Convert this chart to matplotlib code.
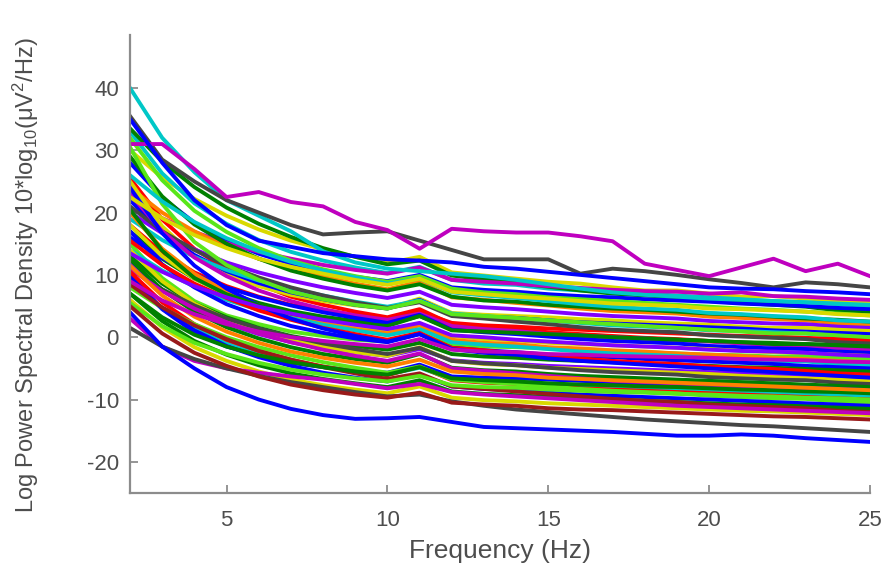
import matplotlib
matplotlib.use("Agg")
from matplotlib import pyplot as plt

plt.rcParams['font.family'] = ['Liberation Sans', 'DejaVu Sans']
plt.rcParams['mathtext.fontset'] = 'custom'
plt.rcParams['mathtext.rm'] = 'Liberation Sans'
plt.rcParams['mathtext.default'] = 'regular'
plt.rcParams['axes.unicode_minus'] = False

# frequency bins (Hz)
freqs = list(range(2, 26))

# log power per channel, dB
ch01 = [30, 25.6, 22.2, 19.5, 17.3, 15.5, 14.1, 12.9, 11.9, 12.9, 10.4, 9.9, 9.4, 8.9, 8.6, 8.0, 7.5, 7.5, 7.0, 6.5, 6.6, 6.2, 5.9, 5.5]
ch02 = [33, 26.3, 21.5, 18.2, 15.6, 13.7, 12.3, 11.2, 10.3, 11.3, 9.2, 8.6, 8.4, 7.8, 7.5, 7.2, 7.0, 6.7, 6.4, 6.1, 5.8, 5.6, 5.3, 5.0]
ch03 = [33.5, 28.2, 24.1, 20.8, 18.2, 16.1, 14.3, 12.9, 11.7, 12.3, 9.9, 9.3, 8.7, 8.1, 7.5, 7.0, 6.7, 6.4, 5.8, 5.5, 5.2, 4.9, 4.3, 4.0]
ch04 = [28, 22.4, 18.4, 15.5, 13.4, 11.8, 10.6, 9.7, 9.0, 10.0, 8.0, 7.6, 7.3, 6.9, 6.6, 6.4, 6.1, 5.9, 5.7, 5.4, 5.2, 5.0, 4.7, 4.5]
ch05 = [25.5, 18.9, 14.2, 10.9, 8.5, 6.5, 5.2, 4.1, 3.2, 4.5, 2.1, 1.6, 1.3, 0.8, 0.5, 0.2, -0.1, -0.3, -0.6, -0.9, -1.2, -1.4, -1.7, -2.0]
ch06 = [22, 19.1, 16.9, 15.1, 13.7, 12.6, 11.6, 10.8, 10.2, 11.2, 9.2, 8.9, 8.6, 8.2, 7.9, 7.6, 7.4, 7.3, 7.0, 7.2, 6.6, 6.5, 6.2, 6.0]
ch07 = [32, 25.2, 20.3, 16.9, 14.3, 12.3, 10.9, 9.8, 8.9, 9.8, 7.8, 7.2, 6.9, 6.4, 6.1, 5.8, 5.5, 5.2, 4.9, 4.6, 4.4, 4.1, 3.8, 3.5]
ch08 = [24, 20, 17, 14.5, 12.6, 11, 9.7, 8.6, 7.7, 8.9, 6.4, 6.0, 5.5, 5.1, 4.6, 4.2, 4.0, 3.8, 3.3, 3.1, 2.9, 2.7, 2.2, 2.0]
ch09 = [29, 22.6, 18.1, 15, 12.6, 10.7, 9.4, 8.3, 7.5, 8.5, 6.5, 5.9, 5.7, 5.2, 4.9, 4.6, 4.4, 4.1, 3.8, 3.6, 3.3, 3.0, 2.8, 2.5]
ch10 = [20, 16.7, 14.1, 12, 10.4, 9.1, 8.0, 7.1, 6.3, 7.3, 5.2, 4.8, 4.5, 4.1, 3.7, 3.4, 3.2, 3.0, 2.6, 2.4, 2.2, 2.1, 1.7, 1.5]
ch11 = [25, 17.8, 13, 10.1, 8.2, 6.8, 5.8, 5.1, 4.6, 6.2, 3.9, 3.6, 3.4, 3.2, 2.9, 2.7, 2.4, 2.2, 2.0, 1.7, 1.5, 1.5, 1.2, 1.0]
ch12 = [22, 16.8, 13.2, 10.6, 8.7, 7.2, 6.1, 5.2, 4.6, 6.0, 3.7, 3.3, 3.1, 2.7, 2.4, 2.2, 2.0, 1.8, 1.6, 1.4, 1.1, 0.9, 0.7, 0.5]
ch13 = [19, 15.6, 12.9, 10.8, 9.1, 7.8, 6.7, 5.7, 4.9, 5.9, 3.8, 3.4, 3.0, 2.7, 2.3, 1.9, 1.7, 1.5, 1.1, 1.0, 0.8, 0.6, 0.2, 0.0]
ch14 = [18, 13.6, 10.4, 8.2, 6.5, 5.2, 4.3, 3.6, 3.0, 4.1, 2.3, 1.9, 1.7, 1.4, 1.2, 1.0, 0.8, 0.6, 0.4, 0.2, 0.1, -0.1, -0.3, -0.5]
ch15 = [21, 17, 14, 11.5, 9.6, 8.0, 6.7, 5.6, 4.7, 5.6, 3.4, 3.0, 2.5, 2.1, 1.6, 1.2, 1.0, 0.8, 0.3, 0.1, -0.1, -0.3, -0.8, -1.0]
ch16 = [17, 12.6, 9.4, 7.2, 5.5, 4.2, 3.3, 2.6, 2.0, 3.4, 1.3, 0.9, 0.7, 0.4, 0.2, 0.0, -0.2, -0.4, -0.6, -0.8, -0.9, -1.1, -1.3, -1.5]
ch17 = [23, 17, 12.8, 9.8, 7.5, 5.8, 4.5, 3.5, 2.8, 3.8, 1.8, 1.3, 1.0, 0.5, 0.3, 0.0, -0.2, -0.5, -0.7, -1.0, -1.2, -1.5, -1.7, -2.0]
ch18 = [16, 12.7, 10.1, 8.0, 6.4, 5.1, 4.0, 3.1, 2.3, 3.6, 1.2, 0.8, 0.5, 0.1, -0.3, -0.6, -0.8, -1.0, -1.4, -1.6, -1.8, -1.9, -2.3, -2.5]
ch19 = [18, 13, 9.4, 6.9, 5.0, 3.5, 2.5, 1.6, 1.0, 2.1, 0.2, -0.3, -0.5, -0.9, -1.1, -1.3, -1.5, -1.7, -1.9, -2.2, -2.4, -2.6, -2.8, -3.0]
ch20 = [15, 9.5, 5.8, 3.5, 2.1, 0.9, 0.2, -0.4, -0.7, 0.6, -1.3, -1.5, -1.6, -1.8, -2.0, -2.2, -2.4, -2.6, -2.8, -2.9, -3.1, -3.1, -3.3, -3.5]
ch21 = [20, 14.2, 10.2, 7.3, 5.1, 3.4, 2.2, 1.3, 0.6, 1.9, -0.4, -0.9, -1.1, -1.6, -1.8, -2.1, -2.3, -2.6, -2.8, -3.0, -3.3, -3.5, -3.8, -4.0]
ch22 = [14, 10.7, 8.1, 6.0, 4.4, 3.1, 2.0, 1.1, 0.3, 1.3, -0.8, -1.2, -1.5, -1.9, -2.3, -2.6, -2.8, -3.0, -3.4, -3.6, -3.8, -3.9, -4.3, -4.5]
ch23 = [17, 11.7, 8.0, 5.3, 3.4, 1.8, 0.7, -0.2, -0.8, 0.5, -1.7, -2.1, -2.4, -2.8, -3.0, -3.2, -3.5, -3.7, -3.9, -4.1, -4.3, -4.6, -4.8, -5.0]
ch24 = [13, 8.6, 5.4, 3.2, 1.5, 0.2, -0.7, -1.4, -2.0, -0.9, -2.7, -3.1, -3.3, -3.6, -3.8, -4.0, -4.2, -4.4, -4.6, -4.8, -4.9, -5.1, -5.3, -5.5]
ch25 = [15.5, 11.6, 8.6, 6.3, 4.3, 2.8, 1.5, 0.5, -0.4, 0.7, -1.7, -2.1, -2.6, -3.0, -3.4, -3.8, -4.1, -4.3, -4.7, -4.9, -5.1, -5.4, -5.8, -6.0]
ch26 = [12, 7.6, 4.4, 2.2, 0.5, -0.8, -1.7, -2.4, -3.0, -1.9, -3.7, -4.1, -4.3, -4.6, -4.8, -5.0, -5.2, -5.4, -5.6, -5.8, -5.9, -6.1, -6.3, -6.5]
ch27 = [14, 9, 5.4, 2.9, 1.0, -0.5, -1.5, -2.4, -3.0, -1.6, -3.8, -4.3, -4.5, -4.9, -5.1, -5.3, -5.5, -5.7, -5.9, -6.2, -6.4, -6.6, -6.8, -7.0]
ch28 = [11, 7.7, 5.1, 3.0, 1.4, 0.1, -1.0, -1.9, -2.7, -1.7, -3.8, -4.2, -4.5, -4.9, -5.3, -5.6, -5.8, -6.0, -6.4, -6.6, -6.8, -6.9, -7.3, -7.5]
ch29 = [12.5, 7.6, 4.1, 1.6, -0.2, -1.6, -2.7, -3.5, -4.1, -2.7, -4.9, -5.3, -5.5, -5.9, -6.2, -6.4, -6.6, -6.8, -7.0, -7.2, -7.4, -7.6, -7.8, -8.0]
ch30 = [10, 4.5, 0.8, -1.5, -2.9, -4.1, -4.8, -5.4, -5.7, -4.4, -6.3, -6.5, -6.6, -6.8, -7.0, -7.2, -7.4, -7.6, -7.8, -7.9, -8.1, -8.1, -8.3, -8.5]
ch31 = [11, 7.4, 4.6, 2.4, 0.6, -0.8, -2.0, -3.0, -3.8, -2.6, -5.0, -5.4, -5.8, -6.2, -6.6, -7.0, -7.2, -7.4, -7.8, -8.0, -8.2, -8.4, -8.8, -9.0]
ch32 = [9, 4.6, 1.4, -0.8, -2.5, -3.8, -4.7, -5.4, -6.0, -4.9, -6.7, -7.1, -7.3, -7.6, -7.8, -8.0, -8.2, -8.4, -8.6, -8.8, -8.9, -9.1, -9.3, -9.5]
ch33 = [10.5, 5.6, 2.1, -0.4, -2.2, -3.6, -4.7, -5.5, -6.1, -4.7, -6.9, -7.3, -7.5, -7.9, -8.2, -8.4, -8.6, -8.8, -9.0, -9.2, -9.4, -9.6, -9.8, -10.0]
ch34 = [8, 4.7, 2.1, 0.0, -1.6, -2.9, -4.0, -4.9, -5.7, -4.7, -6.8, -7.2, -7.5, -7.9, -8.3, -8.6, -8.8, -9.0, -9.4, -9.6, -9.8, -9.9, -10.3, -10.5]
ch35 = [9.5, 4.6, 1.1, -1.4, -3.2, -4.6, -5.7, -6.5, -7.1, -6.0, -7.9, -8.3, -8.5, -8.9, -9.2, -9.4, -9.6, -9.8, -10.0, -10.2, -10.4, -10.6, -10.8, -11.0]
ch36 = [7, 2.6, -0.6, -2.8, -4.5, -5.8, -6.7, -7.4, -8.0, -6.9, -8.7, -9.1, -9.3, -9.6, -9.8, -10.0, -10.2, -10.4, -10.6, -10.8, -10.9, -11.1, -11.3, -11.5]
ch37 = [8.5, 4.8, 1.9, -0.3, -2.2, -3.6, -4.8, -5.8, -6.7, -5.8, -7.9, -8.3, -8.7, -9.1, -9.5, -9.9, -10.2, -10.4, -10.8, -11.0, -11.2, -11.4, -11.8, -12.0]
ch38 = [6, 1.6, -1.6, -3.8, -5.5, -6.8, -7.7, -8.4, -9.0, -7.9, -9.7, -10.1, -10.3, -10.6, -10.8, -11.0, -11.2, -11.4, -11.6, -11.8, -11.9, -12.1, -12.3, -12.5]
ch39 = [3, -1.5, -3.8, -5.0, -5.7, -6.3, -6.8, -7.5, -8.2, -7.5, -8.8, -9.2, -9.5, -9.8, -10.1, -10.4, -10.7, -11.0, -11.2, -11.4, -11.6, -11.8, -12.0, -12.2]
ch40 = [1.5, -1.5, -3.5, -5.0, -6.2, -7.2, -8.0, -8.8, -9.5, -9.2, -10.3, -11.0, -11.6, -12.0, -12.4, -12.8, -13.2, -13.5, -13.8, -14.1, -14.3, -14.6, -14.9, -15.2]
ch41 = [4, -1.5, -5, -8, -10, -11.5, -12.5, -13.1, -13.0, -12.8, -13.6, -14.4, -14.6, -14.8, -15.0, -15.2, -15.5, -15.8, -15.8, -15.6, -15.8, -16.2, -16.5, -16.8]
ch42 = [7, 3.2, 0.4, -1.5, -2.9, -4.0, -4.8, -5.5, -6.0, -4.8, -6.6, -6.9, -7.1, -7.4, -7.6, -7.7, -7.9, -8.0, -8.2, -8.4, -8.5, -8.7, -8.8, -9.0]
ch43 = [5.5, 1.8, -0.9, -2.7, -4.1, -5.2, -6.0, -6.6, -7.1, -6.2, -7.7, -8.0, -8.1, -8.4, -8.6, -8.8, -8.9, -9.1, -9.2, -9.4, -9.5, -9.7, -9.8, -10.0]
ch44 = [40, 32, 26.5, 22, 19.5, 17, 13.8, 12, 11, 10.6, 10.2, 9.8, 9.2, 8.5, 7.8, 7.2, 6.8, 6.5, 6.2, 6.0, 5.8, 5.6, 5.4, 5.2]
ch45 = [35.5, 28.5, 25, 22, 20, 18, 16.5, 16.8, 17, 15.5, 14, 12.5, 12.5, 12.5, 10.2, 11, 10.6, 10, 9.3, 8.7, 8, 8.8, 8.5, 8]
ch46 = [31, 31, 27, 22.5, 23.3, 21.7, 21, 18.5, 17.2, 14.2, 17.4, 17, 16.8, 16.8, 16.2, 15.4, 11.8, 10.8, 9.8, 11.2, 12.6, 10.6, 11.8, 9.8]
ch47 = [35, 28, 22, 18, 15.5, 14.5, 13.5, 13, 12.5, 12.3, 12, 11.3, 11, 10.5, 10, 9.5, 9, 8.5, 8, 7.8, 7.7, 7.4, 7.2, 6.9]
ch48 = [30.5, 21.4, 15.3, 11.6, 9.2, 7.3, 6.1, 5.2, 4.6, 5.8, 3.7, 3.4, 3.1, 2.7, 2.4, 2.1, 1.8, 1.5, 1.2, 0.9, 0.6, 0.6, 0.3, 0.0]
ch49 = [26, 21.8, 18.5, 15.9, 13.8, 12.1, 10.7, 9.6, 8.6, 9.4, 7.2, 6.7, 6.3, 5.8, 5.3, 4.9, 4.6, 4.4, 3.9, 3.7, 3.4, 3.2, 2.7, 2.5]
ch50 = [24, 16.7, 11.5, 7.8, 5.1, 3.0, 1.4, 0.2, -0.7, 0.5, -1.9, -2.5, -2.8, -3.4, -3.8, -4.1, -4.4, -4.7, -5.0, -5.3, -5.6, -5.9, -6.2, -6.5]
ch51 = [11.5, 6.7, 3.3, 0.9, -0.9, -2.3, -3.3, -4.1, -4.7, -3.6, -5.5, -5.9, -6.1, -6.5, -6.7, -6.9, -7.1, -7.3, -7.5, -7.7, -7.9, -8.1, -8.3, -8.5]
ch52 = [22.5, 19.1, 16.4, 14.3, 12.6, 11.3, 10.2, 9.2, 8.4, 9.4, 7.3, 6.9, 6.5, 6.2, 5.8, 5.4, 5.2, 5.0, 4.6, 4.5, 4.3, 4.1, 3.7, 3.5]
ch53 = [9, 5.9, 3.7, 2.1, 0.9, 0.0, -0.6, -1.1, -1.5, -0.3, -2.0, -2.3, -2.4, -2.7, -2.8, -3.0, -3.1, -3.2, -3.3, -3.5, -3.6, -3.7, -3.9, -4.0]
ch54 = [20.5, 13.9, 9.5, 6.9, 5.1, 3.8, 2.9, 2.2, 1.8, 3.4, 1.1, 0.9, 0.7, 0.5, 0.3, 0.0, -0.2, -0.4, -0.6, -0.8, -1.1, -1.1, -1.3, -1.5]
ch55 = [13.5, 10.5, 8.2, 6.4, 4.9, 3.8, 2.8, 2.0, 1.3, 2.3, 0.3, 0.0, -0.4, -0.7, -1.0, -1.3, -1.5, -1.7, -2.0, -2.2, -2.3, -2.5, -2.8, -3.0]
ch56 = [5, 0.6, -2.5, -4.6, -6.3, -7.6, -8.5, -9.2, -9.7, -8.9, -10.5, -10.8, -11.0, -11.4, -11.6, -11.7, -11.9, -12.1, -12.3, -12.5, -12.7, -12.8, -13.0, -13.2]

spectra = [ch01, ch02, ch03, ch04, ch05, ch06, ch07, ch08, ch09, ch10,
           ch11, ch12, ch13, ch14, ch15, ch16, ch17, ch18, ch19, ch20,
           ch21, ch22, ch23, ch24, ch25, ch26, ch27, ch28, ch29, ch30,
           ch31, ch32, ch33, ch34, ch35, ch36, ch37, ch38, ch39, ch40,
           ch41, ch42, ch43, ch44, ch45, ch46, ch47, ch48, ch49, ch50,
           ch51, ch52, ch53, ch54, ch55, ch56]

yticks = [-20, -10, 0, 10, 20, 30, 40]
xticks = [5, 10, 15, 20, 25]

# line colours
B = (0, 0, 1)
G = (0, 0.5, 0)
R = (1, 0, 0)
C = (0, 0.78, 0.78)
M = (0.75, 0, 0.75)
Y = (0.85, 0.85, 0)
K = (0.27, 0.27, 0.27)
L = (0.35, 0.9, 0.1)
O = (1, 0.5, 0)
P = (0.5, 0, 1)
D = (0.6, 0.1, 0.1)
colors = [Y, C, G, B, R, M, L, O, G, P,
          Y, B, C, R, K, G, M, B, Y, L,
          O, C, B, G, R, P, Y, K, G, B,
          M, C, R, L, B, G, D, Y, M, K,
          B, G, L, C, K, M, B, L, C, B,
          O, Y, M, G, P, D]

fig = plt.figure(figsize=(8.91, 5.68), dpi=100)
ax = fig.add_axes([130 / 891, 75 / 568, 740 / 891, 458 / 568])

for spec, col in zip(spectra, colors):
    ax.plot(freqs, spec, color=col, linewidth=2.8, solid_joinstyle='round')

ax.set_xlim(2, 25)
ax.set_ylim(-25, 48.5)
ax.set_xticks(xticks)
ax.set_yticks(yticks)

gray = (0.55, 0.55, 0.55)
for side in ['top', 'right']:
    ax.spines[side].set_visible(False)
for side in ['left', 'bottom']:
    ax.spines[side].set_color(gray)
    ax.spines[side].set_linewidth(1.6)
ax.tick_params(direction='in', length=6, width=1.3, color=gray,
               labelcolor=(0.3, 0.3, 0.3), labelsize=16)
ax.tick_params(axis='x', pad=12)
ax.tick_params(axis='y', pad=8)

ax.set_xlabel('Frequency (Hz)', fontsize=19, color=(0.3, 0.3, 0.3))
ax.xaxis.set_label_coords(0.5, -0.1)
ax.set_ylabel('Log Power Spectral Density 10*log$_{10}$(\u03bcV$^{2}$/Hz)',
              fontsize=17, color=(0.3, 0.3, 0.3))
ax.yaxis.set_label_coords(-0.12, 0.475)

fig.savefig('out.png', dpi=100)
